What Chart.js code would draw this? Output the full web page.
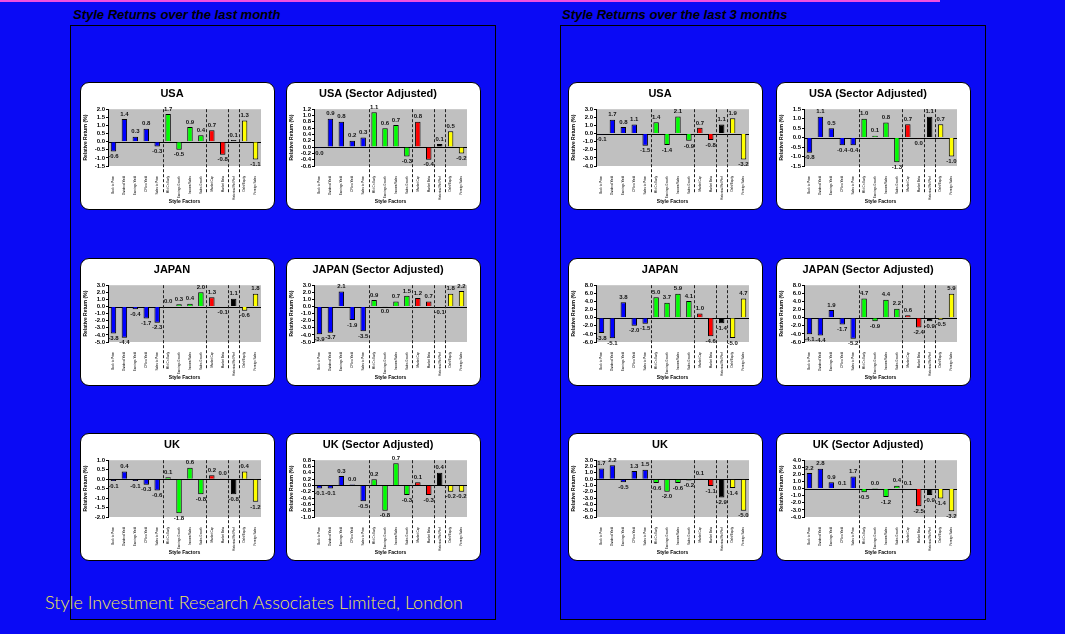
<!DOCTYPE html>
<html>
<head>
<meta charset="utf-8">
<script src="https://cdn.jsdelivr.net/npm/chart.js@4.4.0/dist/chart.umd.min.js"></script>
<style>
body{margin:0;background:#0a0af5;width:1065px;height:634px;overflow:hidden;position:relative;font-family:Arial,"Liberation Sans",sans-serif}
.topline{position:absolute;left:0;top:0;width:940px;height:2px;background:#f050e0}
.panel{position:absolute;top:25px;width:426px;height:595px;border:1px solid #000;box-sizing:border-box}
.ptitle{position:absolute;top:7px;font-weight:bold;font-style:italic;font-size:13px;color:#000}
.card{position:absolute;width:195px;height:128px;background:#fff;border:1px solid #000;border-radius:9px;box-sizing:border-box;overflow:hidden}
.card canvas{position:absolute;left:0;top:0}
.foot{position:absolute;left:45px;top:591px;font-family:Lato,"DejaVu Sans",sans-serif;font-weight:300;font-size:18px;color:#f2e850;white-space:nowrap}
</style>
</head>
<body>
<div class="topline"></div>
<div class="ptitle" style="left:73px">Style Returns over the last month</div>
<div class="ptitle" style="left:562px">Style Returns over the last 3 months</div>
<div class="panel" style="left:70px"></div>
<div class="panel" style="left:560px"></div>
<div id="cards"></div>
<div class="foot">Style Investment Research Associates Limited, London</div>
<script>
const categories = ["Book to Price", "Dividend Yield", "Earnings Yield", "CFlow Yield", "Sales to Price",
  "Mkt Cn Early", "Earnings Growth", "Income/Sales", "Sales Growth",
  "Market Cap", "Market Beta", "Historical Rel Perf", "Debt/Equity", "Foreign Sales"];

// last month
const usaMonth     = [-0.6, 1.4, 0.3, 0.8, -0.3, 1.7, -0.5, 0.9, 0.4, 0.7, -0.8, 0.1, 1.3, -1.1];
const usaSaMonth   = [-0.03, 0.9, 0.8, 0.2, 0.3, 1.1, 0.6, 0.7, -0.3, 0.8, -0.4, 0.1, 0.5, -0.2];
const japanMonth   = [-3.8, -4.4, -0.4, -1.7, -2.3, 0.0, 0.3, 0.4, 2.0, 1.3, -0.1, 1.1, -0.6, 1.8];
const japanSaMonth = [-3.9, -3.7, 2.1, -1.9, -3.5, 0.9, -0.04, 0.7, 1.5, 1.2, 0.7, -0.1, 1.8, 2.2];
const ukMonth      = [-0.1, 0.4, -0.1, -0.3, -0.6, 0.1, -1.8, 0.6, -0.8, 0.2, 0.04, -0.8, 0.4, -1.2];
const ukSaMonth    = [-0.1, -0.1, 0.3, 0.03, -0.5, 0.2, -0.8, 0.7, -0.3, 0.1, -0.3, 0.4, -0.2, -0.2];
// last 3 months
const usa3m     = [-0.1, 1.7, 0.8, 1.1, -1.5, 1.4, -1.4, 2.1, -0.9, 0.7, -0.8, 1.1, 1.9, -3.2];
const usaSa3m   = [-0.8, 1.1, 0.5, -0.4, -0.4, 1.0, 0.1, 0.8, -1.3, 0.7, -0.04, 1.1, 0.7, -1.0];
const japan3m   = [-3.8, -5.1, 3.8, -2.0, -1.5, 5.0, 3.7, 5.9, 4.1, 1.0, -4.6, -1.4, -5.0, 4.7];
const japanSa3m = [-4.1, -4.4, 1.9, -1.7, -5.2, 4.7, -0.9, 4.4, 2.2, 0.6, -2.4, -0.9, -0.5, 5.9];
const uk3m      = [1.7, 2.2, -0.5, 1.3, 1.5, -0.6, -2.0, -0.6, -0.2, 0.1, -1.1, -2.9, -1.4, -5.0];
const ukSa3m    = [2.2, 2.8, 0.9, 0.1, 1.7, -0.5, 0.03, -1.2, 0.4, 0.1, -2.5, -0.9, -1.4, -3.2];

// y axis ranges [min, max, step]
const usaMonthAxis = [-1.5, 2.0, 0.5];
const usaSaMonthAxis = [-0.6, 1.2, 0.2];
const japanMonthAxis = [-5, 3, 1];
const ukMonthAxis = [-2.0, 1.0, 0.5];
const ukSaMonthAxis = [-1.0, 0.8, 0.2];
const usa3mAxis = [-4, 3, 1];
const usaSa3mAxis = [-1.5, 1.5, 0.5];
const japan3mAxis = [-6, 8, 2];
const uk3mAxis = [-6, 3, 1];
const ukSa3mAxis = [-4, 4, 1];

const groupEnds = [4, 8, 10, 11];
const barColors = ["#0000ff","#0000ff","#0000ff","#0000ff","#0000ff",
  "#00ff00","#00ff00","#00ff00","#00ff00","#ff0000","#ff0000","#000000","#ffff00","#ffff00"];

const charts = [
  {title: "USA", data: usaMonth, axis: usaMonthAxis, x: 80, y: 82},
  {title: "USA (Sector Adjusted)", data: usaSaMonth, axis: usaSaMonthAxis, x: 286, y: 82},
  {title: "JAPAN", data: japanMonth, axis: japanMonthAxis, x: 80, y: 258},
  {title: "JAPAN (Sector Adjusted)", data: japanSaMonth, axis: japanMonthAxis, x: 286, y: 258},
  {title: "UK", data: ukMonth, axis: ukMonthAxis, x: 80, y: 433},
  {title: "UK (Sector Adjusted)", data: ukSaMonth, axis: ukSaMonthAxis, x: 286, y: 433},
  {title: "USA", data: usa3m, axis: usa3mAxis, x: 568, y: 82},
  {title: "USA (Sector Adjusted)", data: usaSa3m, axis: usaSa3mAxis, x: 776, y: 82},
  {title: "JAPAN", data: japan3m, axis: japan3mAxis, x: 568, y: 258},
  {title: "JAPAN (Sector Adjusted)", data: japanSa3m, axis: japan3mAxis, x: 776, y: 258},
  {title: "UK", data: uk3m, axis: uk3mAxis, x: 568, y: 433},
  {title: "UK (Sector Adjusted)", data: ukSa3m, axis: ukSa3mAxis, x: 776, y: 433}
];

const fmt = v => { let s = v.toFixed(1); return s === "-0.0" ? "0.0" : s; };

const decor = {
  id: 'decor',
  beforeDraw(chart) {
    const a = chart.chartArea, c = chart.ctx;
    c.save();
    c.fillStyle = '#c0c0c0';
    c.fillRect(a.left, a.top, a.right - a.left, a.bottom - a.top);
    c.restore();
  },
  beforeDatasetsDraw(chart) {
    const a = chart.chartArea, c = chart.ctx, xs = chart.scales.x, ys = chart.scales.y;
    c.save();
    c.strokeStyle = '#000';
    c.lineWidth = 1;
    const y0 = Math.round(ys.getPixelForValue(0)) + 0.5;
    c.beginPath(); c.moveTo(a.left, y0); c.lineTo(a.right, y0); c.stroke();
    c.setLineDash([3, 2]);
    c.strokeStyle = '#222';
    groupEnds.forEach(i => {
      const x = Math.round((xs.getPixelForValue(i) + xs.getPixelForValue(i + 1)) / 2) + 0.5;
      c.beginPath(); c.moveTo(x, a.top); c.lineTo(x, a.bottom + 27); c.stroke();
    });
    c.restore();
  },
  afterDatasetsDraw(chart) {
    const c = chart.ctx, meta = chart.getDatasetMeta(0), vals = chart.data.datasets[0].data;
    c.save();
    c.font = 'bold 6px Arial';
    c.fillStyle = '#111';
    c.textAlign = 'center';
    meta.data.forEach((el, i) => {
      const v = vals[i];
      if (v >= 0) { c.textBaseline = 'bottom'; c.fillText(fmt(v), el.x, el.y - 2); }
      else { c.textBaseline = 'top'; c.fillText(fmt(v), el.x, el.y + 2); }
    });
    c.restore();
  }
};

const holder = document.getElementById('cards');
charts.forEach(cfg => {
  const card = document.createElement('div');
  card.className = 'card';
  card.style.left = cfg.x + 'px';
  card.style.top = cfg.y + 'px';
  const cv = document.createElement('canvas');
  cv.width = 193; cv.height = 126;
  cv.style.width = '193px'; cv.style.height = '126px';
  card.appendChild(cv);
  holder.appendChild(card);
  new Chart(cv, {
    type: 'bar',
    data: {
      labels: categories,
      datasets: [{
        data: cfg.data,
        backgroundColor: barColors,
        borderColor: '#000',
        borderWidth: 1,
        categoryPercentage: 1,
        barPercentage: 0.5
      }]
    },
    options: {
      responsive: false,
      animation: false,
      layout: {padding: {left: 2, right: 13, top: 0, bottom: 4}},
      plugins: {
        legend: {display: false},
        tooltip: {enabled: false},
        title: {
          display: true, text: cfg.title, color: '#000',
          font: {size: 11, weight: 'bold', family: 'Arial'},
          padding: {top: 4, bottom: 9}
        }
      },
      scales: {
        x: {
          grid: {display: false},
          border: {display: false},
          ticks: {autoSkip: false, maxRotation: 90, minRotation: 90, color: '#000', padding: 2,
            font: {size: 3, family: 'Arial'}},
          title: {display: true, text: 'Style Factors', color: '#000', padding: 0,
            font: {size: 5, weight: 'bold', family: 'Arial'}},
          afterFit(s) { s.height = 39; }
        },
        y: {
          min: cfg.axis[0], max: cfg.axis[1],
          grid: {drawOnChartArea: false, tickLength: 2, color: '#000'},
          border: {color: '#000'},
          ticks: {stepSize: cfg.axis[2], autoSkip: false, color: '#000', padding: 1,
            font: {size: 6, weight: 'bold', family: 'Arial'},
            callback: v => Number(v).toFixed(1)},
          title: {display: true, text: 'Relative Return (%)', color: '#000', padding: 0,
            font: {size: 5, weight: 'bold', family: 'Arial'}},
          afterFit(s) { s.width = 25; }
        }
      }
    },
    plugins: [decor]
  });
});
</script>
</body>
</html>
